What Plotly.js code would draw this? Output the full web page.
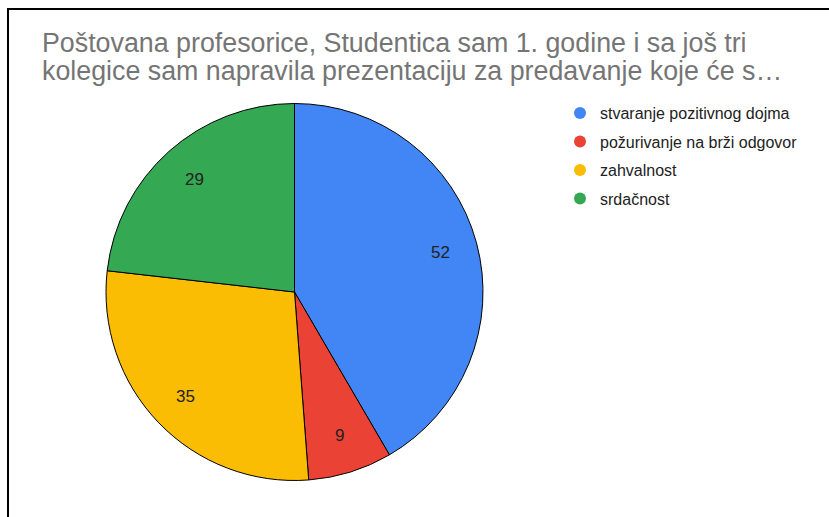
<!DOCTYPE html>
<html>
<head>
<meta charset="utf-8">
<script src="https://cdn.plot.ly/plotly-3.0.1.min.js"></script>
<style>
  html, body { margin: 0; padding: 0; background: #fff; }
  #wrap { position: relative; width: 829px; height: 517px; overflow: hidden; }
  #chart { position: absolute; left: 0; top: 0; width: 829px; height: 517px; }
  #frame { position: absolute; left: 7px; top: 8px; width: 830px; height: 520px;
           border-top: 2px solid #000; border-left: 2px solid #000; pointer-events: none; }
</style>
</head>
<body>
<div id="wrap">
  <div id="chart"></div>
  <div id="frame"></div>
</div>
<script>
// ---- data ----
const categories = ["stvaranje pozitivnog dojma", "požurivanje na brži odgovor", "zahvalnost", "srdačnost"];
const values = [52, 9, 35, 29];
const colors = ["#4285F4", "#EA4335", "#FBBC04", "#34A853"];
const titleLine1 = "Poštovana profesorice, Studentica sam 1. godine i sa još tri";
const titleLine2 = "kolegice sam napravila prezentaciju za predavanje koje će s…";

const W = 829, H = 517;
const cx = 294.5, cy = 292, r = 188.5;
const FONT = "Liberation Sans, Arial, sans-serif";

const traces = [{
  type: "pie",
  labels: categories,
  values: values,
  sort: false,
  direction: "clockwise",
  rotation: 0,
  marker: { colors: colors, line: { color: "#000", width: 1 } },
  textinfo: "none",
  domain: { x: [(cx - r) / W, (cx + r) / W], y: [(H - cy - r) / H, (H - cy + r) / H] },
  showlegend: false,
  hoverinfo: "none"
}];

categories.forEach((c, i) => {
  traces.push({
    type: "scatter",
    mode: "markers",
    x: [null], y: [null],
    name: c,
    legendgroup: "g" + i,
    marker: { color: colors[i], size: 13, symbol: "circle" },
    showlegend: true,
    hoverinfo: "none"
  });
});

// value labels placed at 0.8 of the radius on each slice's mid-angle
const total = values.reduce((a, b) => a + b, 0);
let cum = 0;
const annotations = values.map((v) => {
  const mid = (cum + v / 2) / total * 2 * Math.PI;
  cum += v;
  const d = 0.8 * r;
  const px = cx + d * Math.sin(mid);
  const py = cy - d * Math.cos(mid);
  return {
    text: String(v), showarrow: false,
    xref: "paper", yref: "paper",
    x: px / W, y: 1 - py / H, xanchor: "center", yanchor: "middle",
    font: { family: FONT, size: 17, color: "#222" }
  };
});

const layout = {
  width: W, height: H,
  margin: { l: 0, r: 0, t: 0, b: 0 },
  paper_bgcolor: "#fff",
  plot_bgcolor: "rgba(0,0,0,0)",
  showlegend: true,
  xaxis: { visible: false },
  yaxis: { visible: false },
  annotations: annotations,
  title: {
    text: '<span style="font-size:26.8px">' + titleLine1 + '</span><br><span style="font-size:26.8px">' + titleLine2 + '</span>',
    x: 42 / W, xref: "container", xanchor: "left",
    y: 1 - 52 / H, yref: "container", yanchor: "top",
    font: { family: FONT, size: 21.5, color: "#757575" }
  },
  legend: {
    x: 560 / W, xanchor: "left",
    y: 1 - 96 / H, yanchor: "top",
    font: { family: FONT, size: 16, color: "#222" },
    tracegroupgap: 4.7,
    itemsizing: "constant",
    bgcolor: "rgba(0,0,0,0)"
  }
};

Plotly.newPlot("chart", traces, layout, { displayModeBar: false, staticPlot: true });
</script>
</body>
</html>
